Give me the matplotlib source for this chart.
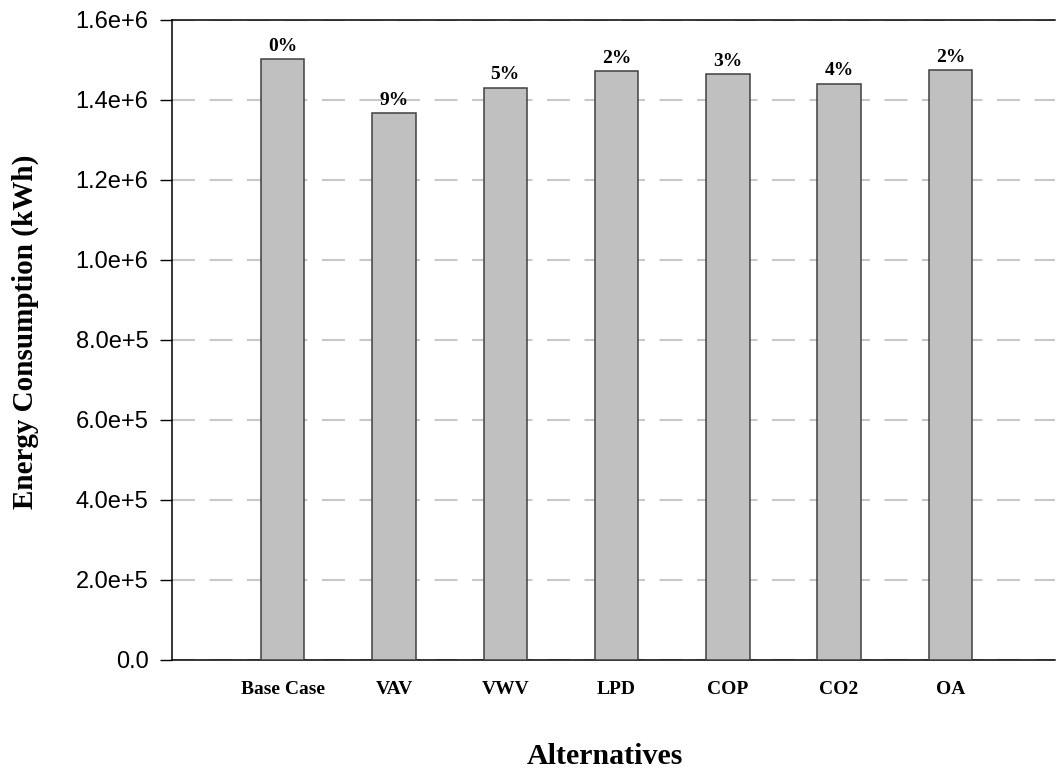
import matplotlib
matplotlib.use("Agg")
import matplotlib.pyplot as plt
import numpy as np

categories = ["Base Case", "VAV", "VWV", "LPD", "COP", "CO2", "OA"]
energy_kwh = [1.503e6, 1.368e6, 1.431e6, 1.473e6, 1.465e6, 1.441e6, 1.474e6]
savings_labels = ["0%", "9%", "5%", "2%", "3%", "4%", "2%"]
yticks = [0, 2e5, 4e5, 6e5, 8e5, 1.0e6, 1.2e6, 1.4e6, 1.6e6]
ytick_labels = ["0.0", "2.0e+5", "4.0e+5", "6.0e+5", "8.0e+5", "1.0e+6", "1.2e+6", "1.4e+6", "1.6e+6"]

W, H = 1057, 776
fig = plt.figure(figsize=(W / 100, H / 100), dpi=100)
ax_left, ax_right, ax_top, ax_bottom = 172, 1055, 20, 660
ax = fig.add_axes([ax_left / W, 1 - ax_bottom / H, (ax_right - ax_left) / W, (ax_bottom - ax_top) / H])

x = np.arange(len(categories))
ax.set_axisbelow(True)
ax.yaxis.grid(True, color="#c8c8c8", linewidth=1.5, linestyle=(0, (11, 7)))
ax.bar(x, energy_kwh, width=0.39, color="#c0c0c0", edgecolor="#404040", linewidth=1.1, zorder=3)

serif = "Liberation Serif"
for xi, v, lab in zip(x, energy_kwh, savings_labels):
    ax.annotate(lab, (xi, v), xytext=(0, 3), textcoords="offset points",
                ha="center", va="bottom", fontsize=14, fontweight="bold", family=serif)

ax.set_xlim(-0.995, 6.94)
ax.set_ylim(0, 1.6e6)
ax.set_yticks(yticks)
ax.set_yticklabels(ytick_labels, family="Liberation Sans", fontsize=17)
ax.tick_params(axis="y", direction="out", length=8.5, width=1.0, pad=8.5)
ax.set_xticks(x)
ax.set_xticklabels(categories, family=serif, fontweight="bold", fontsize=14)
ax.tick_params(axis="x", length=0, pad=15)

for s in ["left", "top", "bottom"]:
    ax.spines[s].set_color("black")
    ax.spines[s].set_linewidth(1.1)
ax.spines["right"].set_visible(False)

fig.text(605 / W, 1 - 757 / H, "Alternatives", ha="center", va="center",
         family=serif, fontweight="bold", fontsize=21.5)
fig.text(25 / W, 1 - 332 / H, "Energy Consumption (kWh)", ha="center", va="center",
         rotation=90, family=serif, fontweight="bold", fontsize=21)

fig.savefig("out.png", dpi=100)
